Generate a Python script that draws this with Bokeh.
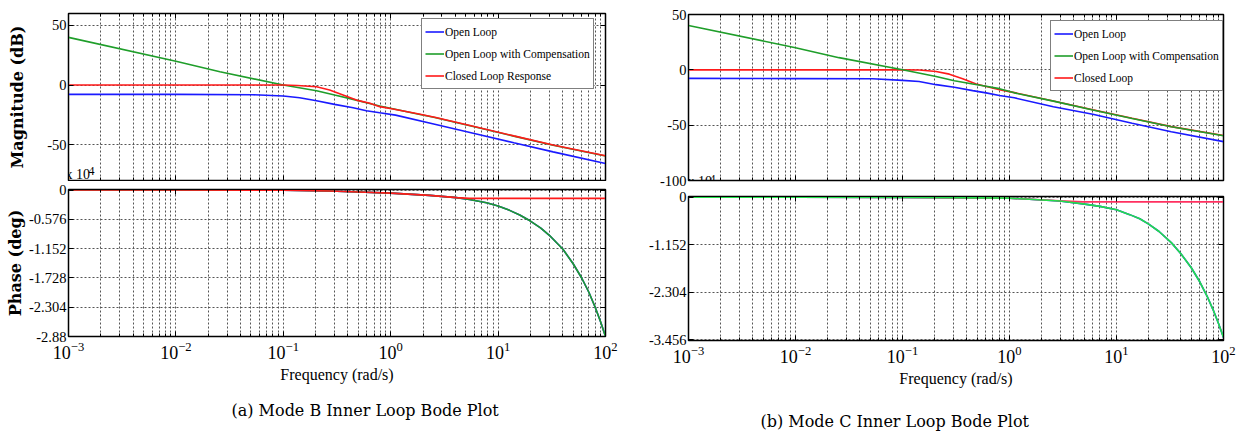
from bokeh.plotting import figure
from bokeh.layouts import row, column
from bokeh.models import (FixedTicker, LogAxis, LinearAxis, Legend, LegendItem,
                          Label, Range1d)
from bokeh.embed import file_html
from bokeh.resources import INLINE

# ---------------- data ----------------
# Panel (a) Mode B : magnitude (dB)
a_freq_ol = [0.001, 0.01, 0.052, 0.1, 0.142, 0.204, 0.30, 0.447, 0.594, 0.79, 1.11, 2.57, 6.0, 14.0, 32.5, 100]
a_mag_ol = [-7.8, -7.8, -8.1, -9.2, -10.6, -13.1, -16.2, -19.0, -21.5, -23.2, -25.2, -32.8, -40.6, -48.4, -56.0, -65.8]
a_freq_olc = [0.001, 0.01, 0.0257, 0.1, 0.204, 0.30, 0.447, 0.594, 0.79, 1.02, 1.69, 2.57, 6.0, 14.0, 32.5, 100]
a_mag_olc = [40.0, 20.0, 11.2, 0.0, -4.7, -8.4, -12.0, -14.8, -17.6, -19.6, -23.8, -27.2, -35.0, -42.8, -50.4, -59.4]
a_freq_cl = [0.001, 0.01, 0.1, 0.135, 0.204, 0.27, 0.36, 0.48, 0.64, 0.79, 1.02, 1.69, 2.57, 6.0, 14.0, 32.5, 100]
a_mag_cl = [0.0, 0.0, 0.0, -0.3, -1.4, -4.2, -8.4, -12.6, -15.3, -18.1, -19.8, -23.6, -27.0, -34.8, -42.6, -50.2, -59.3]

# Panel (a) Mode B : phase (x 10^4 deg)
a_pfreq = [0.001, 0.01, 0.1, 0.27, 0.5, 1.0, 2.3, 4.1, 5.4, 7.8, 10, 12.8, 15.9, 20, 25, 30, 40, 50, 60, 70, 80, 90, 100]
a_ph_ol = [0.0, 0.0, -0.003, -0.02, -0.04, -0.062, -0.105, -0.15, -0.185, -0.25, -0.315, -0.40, -0.49, -0.61, -0.75, -0.89, -1.16, -1.45, -1.73, -2.01, -2.30, -2.59, -2.88]
a_ph_olc = [0.0, 0.0, -0.003, -0.02, -0.04, -0.062, -0.105, -0.15, -0.185, -0.25, -0.315, -0.40, -0.49, -0.61, -0.75, -0.89, -1.16, -1.45, -1.73, -2.01, -2.30, -2.59, -2.88]
a_pfreq_cl = [0.001, 0.01, 0.1, 0.27, 0.5, 1.0, 2.3, 4.1, 5.4, 10, 100]
a_ph_cl = [0.0, 0.0, -0.003, -0.02, -0.04, -0.062, -0.105, -0.15, -0.165, -0.165, -0.165]

# Panel (b) Mode C : magnitude (dB)
b_freq_ol = [0.001, 0.01, 0.0524, 0.1, 0.143, 0.206, 0.305, 0.453, 0.604, 0.805, 1.11, 2.57, 6.0, 14.0, 32.5, 100]
b_mag_ol = [-7.7, -7.9, -8.1, -9.5, -10.6, -13.4, -15.8, -18.8, -20.8, -23.2, -25.3, -33.3, -40.2, -48.2, -56.0, -64.9]
b_freq_olc = [0.001, 0.01, 0.0255, 0.1, 0.206, 0.305, 0.453, 0.604, 0.805, 1.11, 2.57, 6.0, 14.0, 32.5, 100]
b_mag_olc = [40.0, 20.0, 11.0, 0.0, -6.0, -9.8, -12.8, -14.9, -17.0, -20.8, -28.3, -36.3, -44.0, -51.5, -59.5]
b_freq_cl = [0.001, 0.01, 0.1, 0.143, 0.206, 0.274, 0.365, 0.488, 0.65, 0.805, 1.11, 2.57, 6.0, 14.0, 32.5, 100]
b_mag_cl = [0.0, 0.0, 0.0, -0.2, -1.5, -3.9, -8.0, -12.8, -15.8, -17.9, -20.6, -28.1, -36.1, -43.8, -51.3, -59.3]

# Panel (b) Mode C : phase (x 10^4 deg)
b_pfreq = [0.001, 0.01, 0.1, 0.28, 1.0, 2.94, 4.87, 7.0, 10, 13.3, 16.5, 20, 25, 32.5, 40, 50, 60, 70, 80, 90, 100]
b_ph_ol = [0.0, 0.0, -0.003, -0.008, -0.02, -0.09, -0.16, -0.22, -0.30, -0.42, -0.52, -0.65, -0.83, -1.10, -1.37, -1.71, -2.05, -2.39, -2.73, -3.07, -3.40]
b_ph_olc = [0.0, 0.0, -0.003, -0.008, -0.02, -0.09, -0.16, -0.22, -0.30, -0.42, -0.52, -0.65, -0.83, -1.10, -1.37, -1.71, -2.05, -2.39, -2.73, -3.07, -3.40]
b_pfreq_cl = [0.001, 0.01, 0.1, 1.0, 2.94, 4.87, 7.0, 100]
b_ph_cl = [0.0, 0.0, -0.002, -0.02, -0.083, -0.11, -0.11, -0.11]

# ticks and labels
x_major = [1e-3, 1e-2, 1e-1, 1e0, 1e1, 1e2]
x_minor = [m * d for d in [1e-3, 1e-2, 1e-1, 1e0, 1e1] for m in range(2, 10)]
a_mag_ticks = [-50, 0, 50]
a_mag_labels = ["-50", "0", "50"]
b_mag_ticks = [-100, -50, 0, 50]
b_mag_labels = ["-100", "-50", "0", "50"]
a_ph_ticks = [-2.88, -2.304, -1.728, -1.152, -0.576, 0.0]
a_ph_labels = ["-2.88", "-2.304", "-1.728", "-1.152", "-0.576", "0"]
b_ph_ticks = [-3.456, -2.304, -1.152, 0.0]
b_ph_labels = ["-3.456", "-2.304", "-1.152", "0"]

legend_a = ["Open Loop", "Open Loop with Compensation", "Closed Loop Response"]
legend_b = ["Open Loop", "Open Loop with Compensation", "Closed Loop"]
caption_a = "(a) Mode B Inner Loop Bode Plot"
caption_b = "(b) Mode C Inner Loop Bode Plot"

# ---------------- styling ----------------
SERIF = "Liberation Serif"
GRID = "#555555"
BLUE = "#1a1aff"
GREEN = "#1f9e2a"
RED = "#ff1a1a"
GREEN_B_PH = "#22e04a"
RED_B_PH = "#ff3060"


def hide_labels(ax):
    ax.major_label_text_font_size = "1px"
    ax.major_label_text_alpha = 0.0
    ax.major_label_standoff = 0


def make_fig(width, height, left, right, top, bottom, yr, yticks, ylabels,
             show_x_labels=False, ylabel=None, ylabel_standoff=2):
    p = figure(width=width, height=height, x_axis_type="log",
               x_range=Range1d(1e-3, 1e2), y_range=Range1d(*yr),
               output_backend="svg", toolbar_location=None,
               min_border_left=left, min_border_right=right,
               min_border_top=top, min_border_bottom=bottom,
               background_fill_color="white", border_fill_color="white")
    p.outline_line_color = "black"
    p.outline_line_width = 1.5
    p.outline_line_alpha = 1.0

    xt = FixedTicker(ticks=x_major, minor_ticks=x_minor)
    yt = FixedTicker(ticks=yticks)
    xa = p.xaxis[0]
    ya = p.yaxis[0]
    xa.ticker = xt
    ya.ticker = yt
    ya.major_label_overrides = {t: l for t, l in zip(yticks, ylabels)}

    top_ax = LogAxis(ticker=xt)
    right_ax = LinearAxis(ticker=yt)
    for ax in (xa, ya, top_ax, right_ax):
        ax.major_tick_in = 5
        ax.major_tick_out = 0
        ax.minor_tick_in = 3
        ax.minor_tick_out = 0
        ax.axis_line_color = "black"
        ax.major_tick_line_color = "black"
        ax.minor_tick_line_color = "black"
    hide_labels(top_ax)
    hide_labels(right_ax)
    p.add_layout(top_ax, "above")
    p.add_layout(right_ax, "right")

    ya.major_label_text_font = SERIF
    ya.major_label_text_font_size = "14.5px"
    ya.major_label_text_color = "black"
    ya.major_label_standoff = 2
    if ylabel:
        ya.axis_label = ylabel
        ya.axis_label_text_font = "DejaVu Serif"
        ya.axis_label_text_font_style = "bold"
        ya.axis_label_text_font_size = "16px"
        ya.axis_label_text_color = "black"
        ya.axis_label_standoff = ylabel_standoff

    if show_x_labels:
        xa.major_label_text_font = SERIF
        xa.major_label_text_font_size = "18px"
        xa.major_label_text_color = "black"
        xa.major_label_standoff = 5
        xa.axis_label = "Frequency (rad/s)"
        xa.axis_label_text_font = SERIF
        xa.axis_label_text_font_style = "normal"
        xa.axis_label_text_font_size = "16px"
        xa.axis_label_text_color = "black"
        xa.axis_label_standoff = 4
    else:
        hide_labels(xa)

    for g in (p.xgrid[0], p.ygrid[0]):
        g.grid_line_color = GRID
        g.grid_line_dash = "2 2"
        g.grid_line_width = 1
    p.xgrid[0].minor_grid_line_color = GRID
    p.xgrid[0].minor_grid_line_dash = "2 2"
    p.xgrid[0].minor_grid_line_width = 1
    return p


def add_legend(p, items, loc):
    leg = Legend(items=items, location=loc, orientation="vertical",
                 label_text_font=SERIF, label_text_font_size="11.5px",
                 label_text_color="black", label_height=19, glyph_height=19,
                 glyph_width=19, label_standoff=1, spacing=3, padding=3,
                 margin=0, border_line_color="black", border_line_width=1.5,
                 background_fill_color="white", background_fill_alpha=1.0)
    p.add_layout(leg)


def add_text(p, x, y, text, size, baseline="alphabetic"):
    p.add_layout(Label(x=x, y=y, x_units="screen", y_units="screen", text=text,
                       text_font=SERIF, text_font_size=size, text_color="black",
                       text_baseline=baseline, text_align="left"))


def caption_fig(width, height, text, x, y):
    c = figure(width=width, height=height, x_range=Range1d(0, 1), y_range=Range1d(0, 1),
               x_axis_location=None, y_axis_location=None,
               output_backend="svg", toolbar_location=None,
               min_border=0, min_border_left=0, min_border_right=0,
               min_border_top=0, min_border_bottom=0,
               background_fill_color="white", border_fill_color="white")
    c.outline_line_color = None
    c.grid.visible = False
    c.add_layout(Label(x=x, y=y, x_units="screen", y_units="screen", text=text,
                       text_font="DejaVu Serif", text_font_size="16px", text_color="black",
                       text_align="left", text_baseline="middle"))
    return c


LW = 1.6

# ---------------- panel (a) ----------------
pa_mag = make_fig(640, 181, 68, 35, 13, 1, (-80, 60), a_mag_ticks, a_mag_labels,
                  ylabel="Magnitude (dB)", ylabel_standoff=17)
ra1 = pa_mag.line(a_freq_ol, a_mag_ol, line_color=BLUE, line_width=LW)
ra2 = pa_mag.line(a_freq_olc, a_mag_olc, line_color=GREEN, line_width=LW)
ra3 = pa_mag.line(a_freq_cl, a_mag_cl, line_color=RED, line_width=LW)
add_legend(pa_mag, [LegendItem(label=legend_a[0], renderers=[ra1]),
                    LegendItem(label=legend_a[1], renderers=[ra2]),
                    LegendItem(label=legend_a[2], renderers=[ra3])], (353, 91))
add_text(pa_mag, -3, -1, "x 10", "14px", baseline="bottom")
add_text(pa_mag, 20, 10, "4", "12px")

pa_ph = make_fig(640, 210, 68, 35, 8, 55, (-2.88, 0.01), a_ph_ticks, a_ph_labels,
                 show_x_labels=True, ylabel="Phase (deg)", ylabel_standoff=1)
pa_ph.line(a_pfreq, a_ph_ol, line_color=BLUE, line_width=LW)
pa_ph.line(a_pfreq, a_ph_olc, line_color=GREEN, line_width=LW)
pa_ph.line(a_pfreq_cl, a_ph_cl, line_color=RED, line_width=LW)

cap_a = caption_fig(640, 42, caption_a, 163, 23)

# ---------------- panel (b) ----------------
pb_mag = make_fig(599, 188, 48, 16, 14, 8, (-100, 50), b_mag_ticks, b_mag_labels)
rb1 = pb_mag.line(b_freq_ol, b_mag_ol, line_color=BLUE, line_width=LW)
rb3 = pb_mag.line(b_freq_cl, b_mag_cl, line_color=RED, line_width=LW)
rb2 = pb_mag.line(b_freq_olc, b_mag_olc, line_color=GREEN, line_width=LW)
add_legend(pb_mag, [LegendItem(label=legend_b[0], renderers=[rb1]),
                    LegendItem(label=legend_b[1], renderers=[rb2]),
                    LegendItem(label=legend_b[2], renderers=[rb3])], (362, 89))
add_text(pb_mag, -1, -8, "x 10", "14px", baseline="bottom")
add_text(pb_mag, 21, 2, "4", "12px")

pb_ph = make_fig(599, 204, 48, 16, 8, 52, (-3.475, 0.02), b_ph_ticks, b_ph_labels,
                 show_x_labels=True)
pb_ph.line(b_pfreq, b_ph_ol, line_color=BLUE, line_width=LW)
pb_ph.line(b_pfreq_cl, b_ph_cl, line_color=RED_B_PH, line_width=LW)
pb_ph.line(b_pfreq, b_ph_olc, line_color=GREEN_B_PH, line_width=LW)

cap_b = caption_fig(599, 41, caption_b, 72, 12)

layout = row(column(pa_mag, pa_ph, cap_a, spacing=0),
             column(pb_mag, pb_ph, cap_b, spacing=0), spacing=0)
open("out.html", "w").write(file_html(layout, INLINE))
